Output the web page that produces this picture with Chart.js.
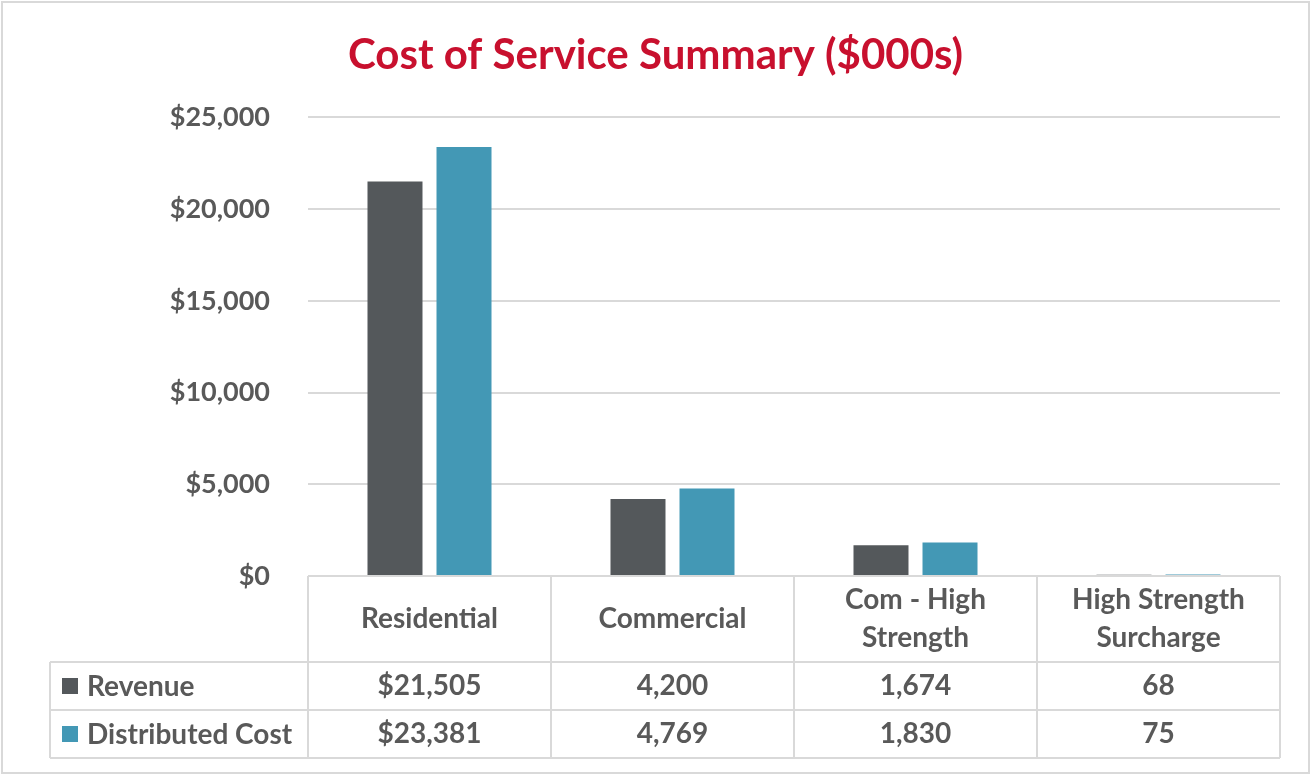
<!DOCTYPE html>
<html>
<head>
<meta charset="utf-8">
<script src="https://cdn.jsdelivr.net/npm/chart.js@4.4.1/dist/chart.umd.min.js"></script>
<style>
  html, body { margin: 0; padding: 0; background: #fff; }
  #wrap { width: 1311px; height: 775px; }
</style>
</head>
<body>
<div id="wrap"><canvas id="costChart" width="1311" height="775"></canvas></div>
<script>
const categories = ['Residential', 'Commercial', 'Com - High\nStrength', 'High Strength\nSurcharge'];
const revenue = [21505, 4200, 1674, 68];
const distributedCost = [23381, 4769, 1830, 75];
const seriesNames = ['Revenue', 'Distributed Cost'];
const seriesColors = ['#54585B', '#4398B5'];

const textColor = '#595959';
const lineColor = '#D9D9D9';
const fontFamily = 'Lato, "Open Sans", sans-serif';

function fmt(v, col) {
  const s = v.toLocaleString('en-US');
  return col === 0 ? '$' + s : s; // only first column has the $ sign
}

// draws the Excel-style data table under the plot
const dataTable = {
  id: 'dataTable',
  afterDraw(chart) {
    const { ctx, chartArea: a } = chart;
    const colW = a.width / categories.length;
    const headBottom = a.bottom + 86;
    const rowH = 48;
    const tableBottom = headBottom + rowH * 2;
    const tableLeft = 50;
    const rows = [revenue, distributedCost];

    ctx.save();
    ctx.strokeStyle = lineColor;
    ctx.lineWidth = 2;
    ctx.beginPath();
    ctx.moveTo(a.left, a.bottom); ctx.lineTo(a.right, a.bottom);
    for (let r = 0; r <= 2; r++) {
      ctx.moveTo(tableLeft, headBottom + r * rowH);
      ctx.lineTo(a.right, headBottom + r * rowH);
    }
    for (let i = 0; i <= categories.length; i++) {
      ctx.moveTo(a.left + i * colW, a.bottom);
      ctx.lineTo(a.left + i * colW, tableBottom);
    }
    ctx.moveTo(tableLeft, headBottom); ctx.lineTo(tableLeft, tableBottom);
    ctx.stroke();

    // outer frame
    ctx.strokeRect(2, 2, chart.width - 4, chart.height - 4);

    ctx.fillStyle = textColor;
    ctx.font = 'bold 28px ' + fontFamily;
    ctx.textAlign = 'center';
    ctx.textBaseline = 'middle';
    categories.forEach((c, i) => {
      const cx = a.left + (i + 0.5) * colW;
      const lines = c.split('\n');
      const midY = (a.bottom + headBottom) / 2;
      lines.forEach((ln, k) => {
        ctx.fillText(ln, cx, midY + (k - (lines.length - 1) / 2) * 38);
      });
      rows.forEach((vals, r) => {
        ctx.fillText(fmt(vals[i], i), cx, headBottom + r * rowH + rowH / 2);
      });
    });

    ctx.textAlign = 'left';
    rows.forEach((vals, r) => {
      const cy = headBottom + r * rowH + rowH / 2;
      ctx.fillStyle = seriesColors[r];
      ctx.fillRect(62, cy - 8, 16, 16);
      ctx.fillStyle = textColor;
      ctx.fillText(seriesNames[r], 87, cy + 1);
    });
    ctx.restore();
  }
};

new Chart(document.getElementById('costChart'), {
  type: 'bar',
  data: {
    labels: categories,
    datasets: [
      { label: seriesNames[0], data: revenue, backgroundColor: seriesColors[0] },
      { label: seriesNames[1], data: distributedCost, backgroundColor: seriesColors[1] }
    ]
  },
  options: {
    responsive: false,
    animation: false,
    layout: { padding: { left: 31, right: 31, top: 0, bottom: 199 } },
    datasets: { bar: { categoryPercentage: 0.568, barPercentage: 0.797 } },
    plugins: {
      legend: { display: false },
      tooltip: { enabled: false },
      title: {
        display: true,
        text: 'Cost of Service Summary ($000s)',
        color: '#C8102E',
        font: { family: fontFamily, size: 42, weight: 'bold' },
        padding: { top: 30, bottom: 37 }
      }
    },
    scales: {
      x: { display: false },
      y: {
        min: 0,
        max: 25000,
        afterFit(scale) { scale.width = 277; },
        border: { display: false },
        grid: { color: lineColor, lineWidth: 2, drawTicks: false },
        ticks: {
          stepSize: 5000,
          padding: 38,
          color: textColor,
          font: { family: fontFamily, size: 27, weight: 'bold' },
          callback: v => '$' + v.toLocaleString('en-US')
        }
      }
    }
  },
  plugins: [dataTable]
});
</script>
</body>
</html>
